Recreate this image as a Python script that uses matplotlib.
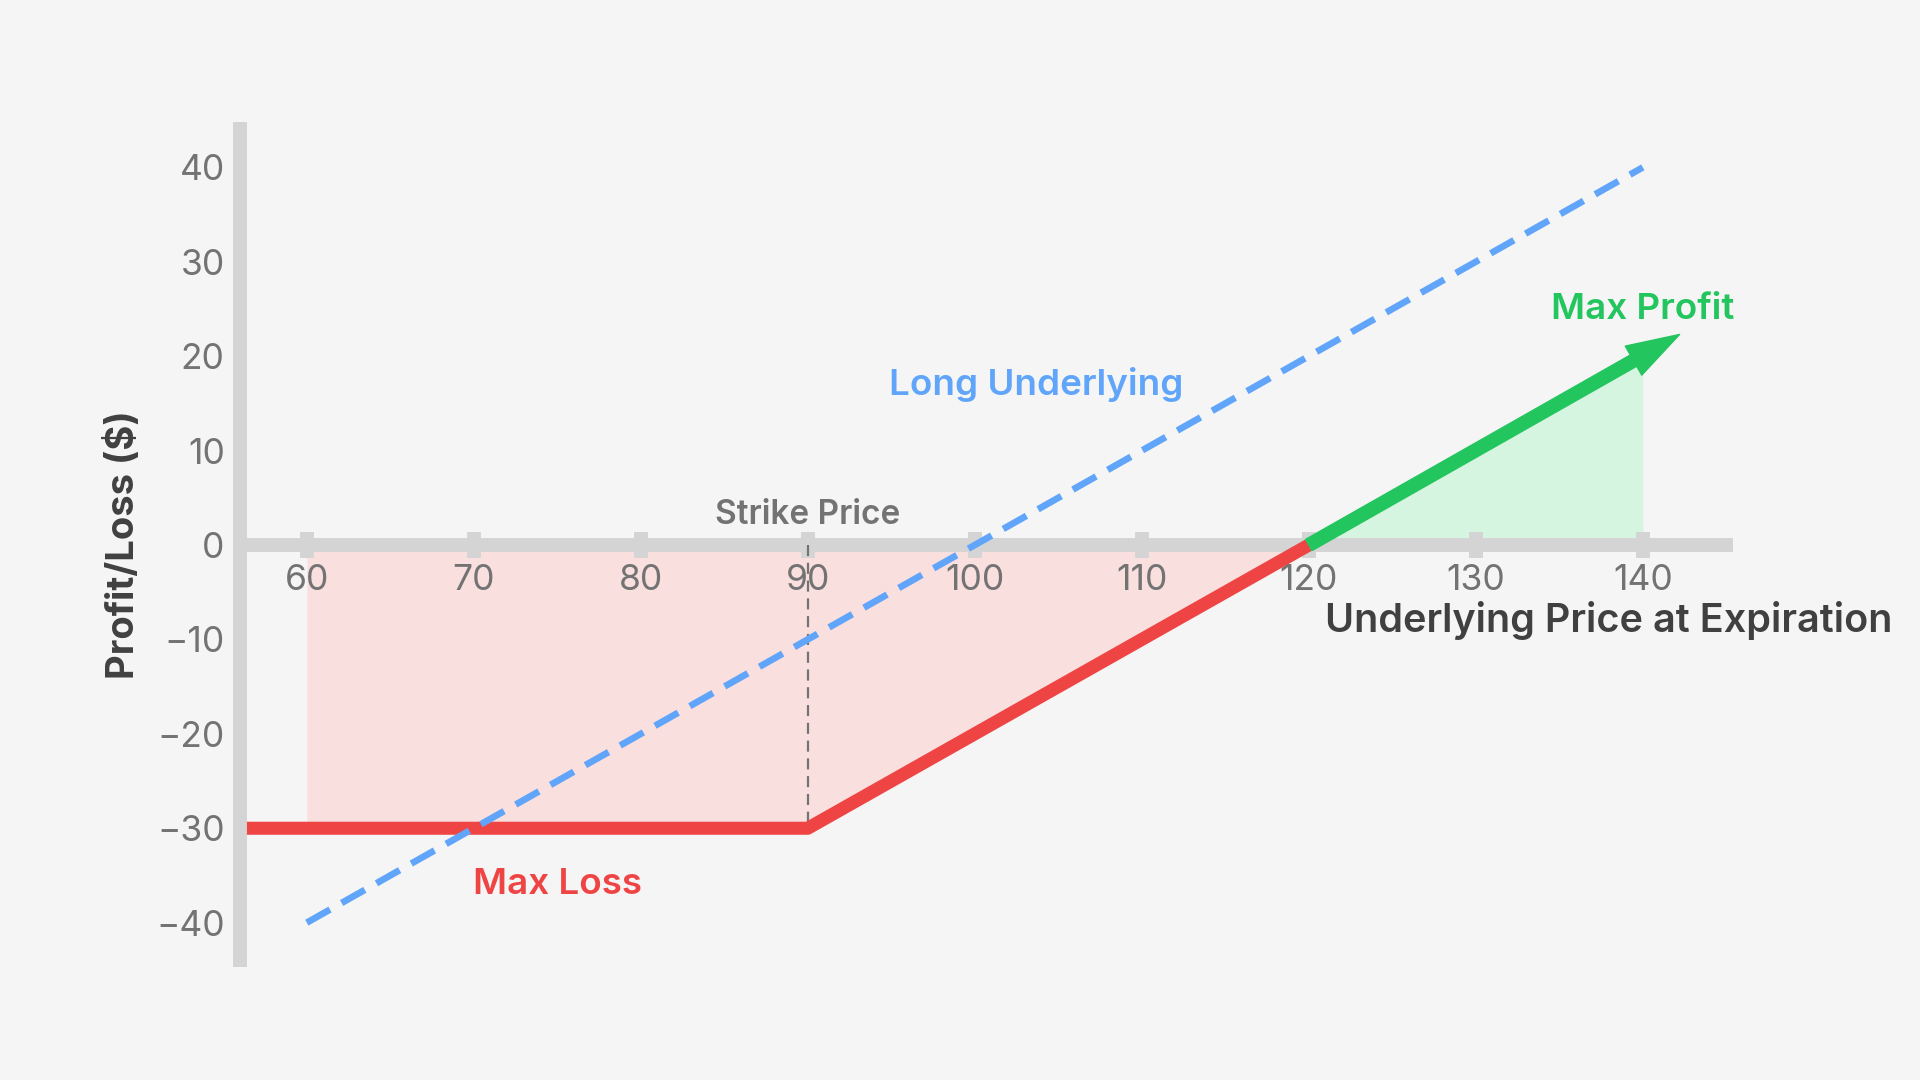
import matplotlib.pyplot as plt

plt.rcParams['font.family'] = ['Inter', 'DejaVu Sans']

# payoff data
strike = 90
loss_x = [56, 90, 120]
loss_y = [-30, -30, 0]
shade_loss_x = [60, 90, 120]
shade_loss_y = [-30, -30, 0]
profit_x = [120, 140]
profit_y = [0, 20]
arrow_tip = (142.2, 22.3)
under_x = [60, 140]
under_y = [-40, 40]
xticks = [60, 70, 80, 90, 100, 110, 120, 130, 140]
yticks = [-40, -30, -20, -10, 0, 10, 20, 30, 40]

BG = '#f5f5f5'
AXC = '#d4d4d4'
RED = '#ef4444'
GREEN = '#22c55e'
BLUE = '#60a5fa'
GRAY = '#737373'
DARK = '#404040'

fig = plt.figure(figsize=(19.2, 10.8), dpi=100)
fig.patch.set_facecolor(BG)
ax = fig.add_axes([0.125, 0.1046, 0.7776, 0.7824])
ax.set_facecolor(BG)
ax.set_xlim(56, 145.4)
ax.set_ylim(-44.7, 44.8)

for s in ['top', 'right']:
    ax.spines[s].set_visible(False)
for s in ['left', 'bottom']:
    ax.spines[s].set_color(AXC)
    ax.spines[s].set_linewidth(10)
    ax.spines[s].set_capstyle('butt')
ax.spines['bottom'].set_position(('data', 0))
ax.spines['bottom'].set_zorder(1.5)
ax.spines['left'].set_zorder(5)

ax.set_xticks(xticks)
ax.set_yticks(yticks)
ax.tick_params(axis='x', direction='inout', length=18.7, width=10, color=AXC,
               pad=4, labelsize=25.5, labelcolor=GRAY)
ax.tick_params(axis='y', direction='out', length=5, width=9.5, color=AXC,
               pad=6, labelsize=25.5, labelcolor=GRAY)

# shaded areas
ax.fill_between(shade_loss_x, shade_loss_y, 0, color='#fadfdf', lw=0, zorder=1)
ax.fill_between(profit_x, profit_y, 0, color='#d6f5e0', lw=0, zorder=1)

# strike line
ax.plot([strike, strike], [0, -30], color=GRAY, lw=1.6, ls=(0, (5, 3)), zorder=2)

# long underlying
ax.plot(under_x, under_y, color=BLUE, lw=4.8, ls=(0, (4, 2)), zorder=4)

# option payoff
ax.plot(loss_x, loss_y, color=RED, lw=9.4, solid_capstyle='butt', zorder=3)
ax.annotate('', xy=arrow_tip, xytext=(profit_x[0], profit_y[0]),
            arrowprops=dict(arrowstyle='simple,head_length=1.27,head_width=0.8,tail_width=0.31',
                            color=GREEN, mutation_scale=30, shrinkA=0, shrinkB=0),
            zorder=3)

ax.text(90, 3.2, 'Strike Price', color=GRAY, fontsize=24, fontweight='semibold',
        ha='center', va='center')
ax.text(103.7, 17.0, 'Long Underlying', color=BLUE, fontsize=26.5, fontweight='semibold',
        ha='center', va='center')
ax.text(140, 24.9, 'Max Profit', color=GREEN, fontsize=26.5, fontweight='semibold',
        ha='center', va='center')
ax.text(75, -36.0, 'Max Loss', color=RED, fontsize=26.5, fontweight='semibold',
        ha='center', va='center')

ax.set_ylabel('Profit/Loss ($)', fontsize=27.5, fontweight='bold', color=DARK, labelpad=10)
ax.set_xlabel('Underlying Price at Expiration', fontsize=28.5, fontweight='semibold',
              color=DARK, va='center')
ax.xaxis.set_label_coords(0.917, 0.41)

fig.savefig('out.png', dpi=100, facecolor=BG)
